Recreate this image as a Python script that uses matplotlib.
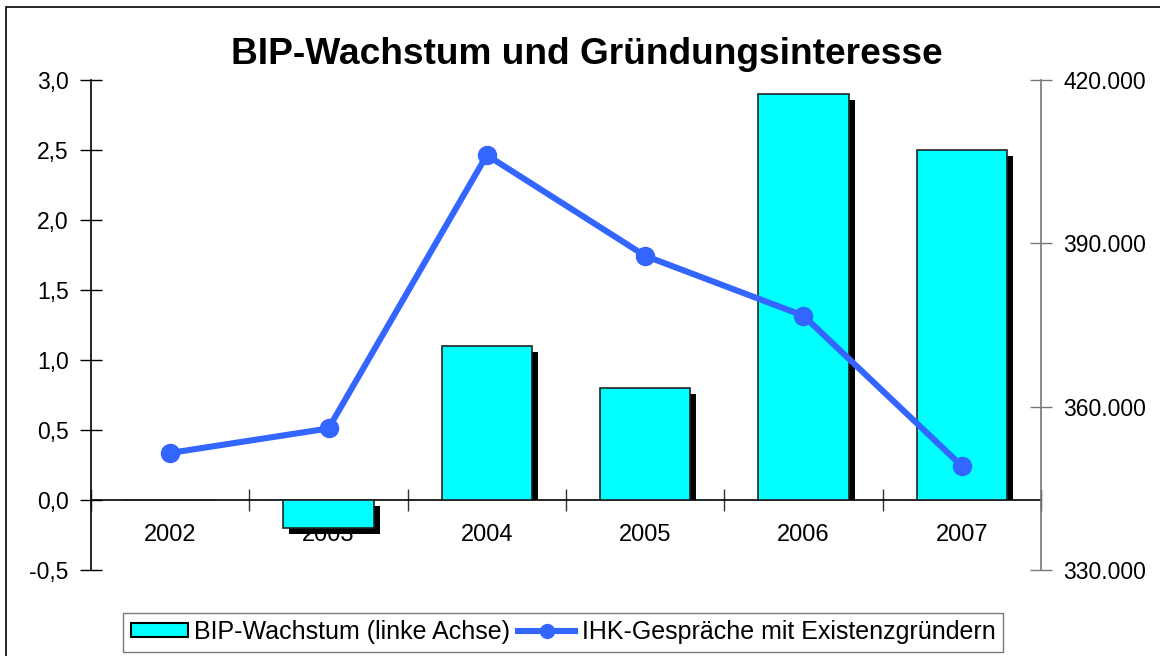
import numpy as np
import matplotlib
matplotlib.use("Agg")
import matplotlib.pyplot as plt
from matplotlib.patches import Patch, Rectangle
from matplotlib.lines import Line2D
from matplotlib.ticker import FixedLocator, FuncFormatter

plt.rcParams['font.family'] = ['Liberation Sans', 'DejaVu Sans']

# ---- data ----
years = ["2002", "2003", "2004", "2005", "2006", "2007"]
bip_growth = [0.0, -0.2, 1.1, 0.8, 2.9, 2.5]
ihk_talks = [351500, 356000, 406200, 387700, 376700, 349100]
left_ticks = [-0.5, 0.0, 0.5, 1.0, 1.5, 2.0, 2.5, 3.0]
right_ticks = [330000, 360000, 390000, 420000]
title = "BIP-Wachstum und Gründungsinteresse"
label_bars = "BIP-Wachstum (linke Achse)"
label_line = "IHK-Gespräche mit Existenzgründern"

W, H = 1160, 656
fig = plt.figure(figsize=(W / 100, H / 100), dpi=100)
fig.patch.set_facecolor("white")

# outer border (only left/top visible in reference)
fig.patches.append(Rectangle((6 / W, -0.1), 1.2, 1.1 - 7 / H, transform=fig.transFigure,
                             fill=False, edgecolor="black", linewidth=1.2))

L, R, T, B = 91, 1041, 80, 570
ax = fig.add_axes([L / W, 1 - B / H, (R - L) / W, (B - T) / H])
ax.set_facecolor("none")

x = np.arange(len(years))
v = np.array(bip_growth)
bar_w = 0.57
# shadow offsets (px -> data)
dx = 6 / ((R - L) / len(years))
dy = 6 / ((B - T) / 3.5)
sh_top = np.where(v > 0, v - dy, -dy)
sh_bot = np.where(v > 0, 0, v - dy)
ax.bar(x + dx, sh_top - sh_bot, bottom=sh_bot, width=bar_w, color="black",
       linewidth=0, zorder=2)
ax.bar(x, v, width=bar_w, color="#00FFFF", edgecolor="#222222", linewidth=1.2, zorder=3)

ax.set_xlim(-0.5, len(years) - 0.5)
ax.set_ylim(-0.5, 3.0)
ax.yaxis.set_major_locator(FixedLocator(left_ticks))
ax.yaxis.set_major_formatter(FuncFormatter(lambda val, p: f"{val:.1f}".replace(".", ",")))
ax.tick_params(axis="y", direction="inout", length=16, width=1, labelsize=16.5, pad=8, colors="black")

# x axis at zero
ax.spines["top"].set_visible(False)
ax.spines["right"].set_visible(False)
ax.spines["bottom"].set_position(("data", 0))
ax.spines["left"].set_linewidth(1.2)
ax.spines["bottom"].set_linewidth(1.2)
ax.set_xticks(np.arange(len(years) + 1) - 0.5)
ax.set_xticklabels([])
ax.tick_params(axis="x", which="major", direction="inout", length=16, width=1, color="#333333")
ax.set_xticks(x, minor=True)
ax.set_xticklabels(years, minor=True)
ax.tick_params(axis="x", which="minor", length=0, labelsize=17, pad=17)

# right axis
ax2 = ax.twinx()
ax2.set_facecolor("none")
ax2.plot(x, ihk_talks, color="#3366FF", linewidth=4.4, marker="o", markersize=13,
         solid_capstyle="round", zorder=5)
ax2.set_ylim(330000, 420000)
ax2.yaxis.set_major_locator(FixedLocator(right_ticks))
ax2.yaxis.set_major_formatter(FuncFormatter(lambda val, p: f"{int(val):,}".replace(",", ".")))
ax2.tick_params(axis="y", direction="inout", length=16, width=1, labelsize=16.5, pad=8,
                color="#777777", labelcolor="black")
for s in ["top", "left", "bottom"]:
    ax2.spines[s].set_visible(False)
ax2.spines["right"].set_color("#777777")
ax2.spines["right"].set_linewidth(1.2)

fig.text(587 / W, 1 - 54 / H, title, ha="center", va="center", fontsize=26.7, fontweight="bold")

handles = [Patch(facecolor="#00FFFF", edgecolor="black", linewidth=1.5),
           Line2D([], [], color="#3366FF", linewidth=4.4, marker="o", markersize=10)]
leg = fig.legend(handles, [label_bars, label_line], loc="center",
                 bbox_to_anchor=(563 / W, 1 - 632 / H), ncol=2, frameon=True, fancybox=False,
                 fontsize=18, handlelength=2.3, handleheight=0.5, handletextpad=0.25,
                 columnspacing=0.3, borderpad=0.3, borderaxespad=0)
leg.get_frame().set_edgecolor("#555555")
leg.get_frame().set_linewidth(1.0)

fig.savefig("out.png", dpi=100)
